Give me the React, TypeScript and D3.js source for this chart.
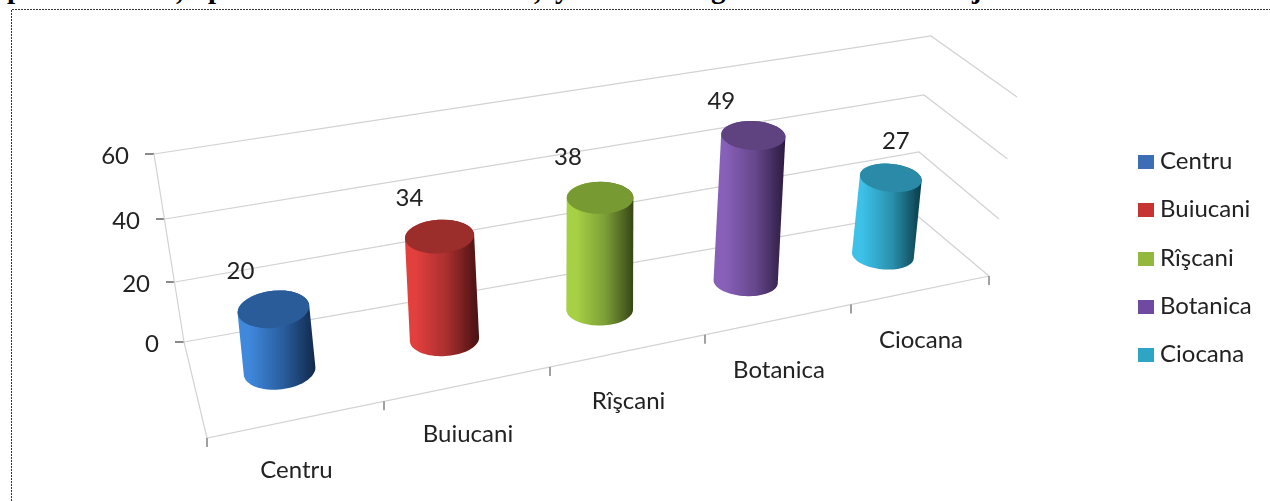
import React from "react";
import * as d3 from "d3";

const categories = ["Centru", "Buiucani", "Rîşcani", "Botanica", "Ciocana"];
const values = [20, 34, 38, 49, 27];
const yTicks = [0, 20, 40, 60];
const axisSlots = [0, 1, 2, 3, 4, 5];

// projected frame of the 3D chart
const leftX = d3.scaleLinear().domain(yTicks).range([184, 175, 165, 154]);
const leftY = d3.scaleLinear().domain(yTicks).range([342, 282, 219, 154]);
const backX = d3.scaleLinear().domain(yTicks).range([914, 919, 924, 931]);
const backY = d3.scaleLinear().domain(yTicks).range([213, 152, 95, 36]);
const rightX = d3.scaleLinear().domain(yTicks).range([989, 999, 1007.5, 1017]);
const rightY = d3.scaleLinear().domain(yTicks).range([276, 219, 159, 97]);

const frontSlotX = d3.scaleLinear().domain(axisSlots).range([207, 384, 550, 705, 851, 989]);
const backSlotX = d3.scaleLinear().domain(axisSlots).range([184, 347, 502, 648, 786, 914]);
const frontEdgeY = d3.scaleLinear().domain([207, 989]).range([438, 276]);
const backEdgeY = d3.scaleLinear().domain([184, 914]).range([342, 213]);

const DEPTH = 0.53;
const unitY = d3.scaleLinear().domain([280, 446, 600, 747, 883]).range([3.08, 3.02, 2.94, 2.98, 2.87]);
const radiusX = d3.scaleLinear().domain([280, 883]).range([36, 31]);
const radiusY = d3.scaleLinear().domain([280, 446, 600, 747, 883]).range([18.5, 16.8, 16, 14.5, 14]);
const tilt = d3.scaleLinear().domain([280, 883]).range([-7, 6]);

const palette = [
  { top: "#2b5c99", a: "#3f88dc", b: "#2a5e9f", c: "#11284a", legend: "#3a6eb5" },
  { top: "#9b2d2a", a: "#e23f3d", b: "#a62e2e", c: "#451110", legend: "#c73533" },
  { top: "#789a31", a: "#a6d145", b: "#7d9e36", c: "#364616", legend: "#93b83f" },
  { top: "#5f4380", a: "#8861ba", b: "#66478c", c: "#2a1b40", legend: "#7049a0" },
  { top: "#2a8aa8", a: "#3cc1e9", b: "#2a8fab", c: "#093a48", legend: "#2fa5c4" },
];
const valueLabelShift = [[-33, -38], [-30, -39], [-32, -41], [-32, -35], [5, -37]];
const legendBaseline = [169, 217, 266, 314, 362];

const FONT = "Lato, 'Open Sans', sans-serif";
const FS = 24;
const GRID = "#d2d2d2";
const topGlyphs: [string, number][] = [["p", 7], [",", 176], ["p", 208], [",", 534], ["y", 555], ["g", 711], ["j", 972]];

function floorPoint(i: number) {
  const fx = frontSlotX(i + 0.5);
  const bx = backSlotX(i + 0.5);
  return {
    x: fx + (bx - fx) * DEPTH,
    y: frontEdgeY(fx) + (backEdgeY(bx) - frontEdgeY(fx)) * DEPTH,
  };
}

function rim(cx: number, cy: number, rx: number, ry: number, deg: number, from: number, to: number) {
  const r = (deg * Math.PI) / 180;
  const n = 40;
  return d3.range(n + 1).map((k) => {
    const a = from + ((to - from) * k) / n;
    const ex = rx * Math.cos(a);
    const ey = ry * Math.sin(a);
    return [cx + ex * Math.cos(r) - ey * Math.sin(r), cy + ex * Math.sin(r) + ey * Math.cos(r)] as [number, number];
  });
}

function Cylinder({ i, v }: { i: number; v: number }) {
  const base = floorPoint(i);
  const tx = base.x + v * (base.x - 590) * 0.001;
  const ty = base.y - v * unitY(base.x);
  const rx = radiusX(base.x);
  const ry = radiusY(base.x);
  const rot = tilt(base.x);
  // bottom rim from its left end round the front to its right end, then the far side of the top rim
  const outline = [
    ...rim(base.x, base.y, rx, ry, rot, Math.PI, 0),
    ...rim(tx, ty, rx, ry, rot, 0, -Math.PI),
  ];
  const body = d3.line()(outline) + "Z";
  return (
    <g>
      <path d={body} fill={`url(#cyl${i})`} />
      <ellipse cx={tx} cy={ty} rx={rx} ry={ry} fill={palette[i].top} transform={`rotate(${rot} ${tx} ${ty})`} />
      <text
        x={tx + valueLabelShift[i][0]}
        y={ty + valueLabelShift[i][1] + 8}
        textAnchor="middle"
        fontFamily={FONT}
        fontSize={FS}
        fill="#222"
      >
        {v}
      </text>
    </g>
  );
}

export default function App() {
  const gridLine = d3.line();
  return (
    <svg
      width={1270}
      height={501}
      viewBox="0 0 1270 501"
      style={{ position: "absolute", left: 0, top: 0, background: "#fff" }}
    >
      <defs>
        <filter id="soft" x="-2%" y="-2%" width="104%" height="104%">
          <feGaussianBlur stdDeviation="0.45" />
        </filter>
        {palette.map((p, i) => (
          <linearGradient key={i} id={`cyl${i}`} x1="0" y1="0" x2="1" y2="0">
            <stop offset="0" stopColor={p.a} />
            <stop offset="0.15" stopColor={p.a} />
            <stop offset="0.58" stopColor={p.b} />
            <stop offset="1" stopColor={p.c} />
          </linearGradient>
        ))}
      </defs>

      <g fontFamily="'Liberation Serif', serif" fontSize={29} fontWeight="bold" fill="#000">
        {topGlyphs.map(([g, x], i) => (
          <text key={i} x={x} y={g === "," ? -1 : -2}>{g}</text>
        ))}
      </g>
      <path d="M11.5 501V9.5H1270" fill="none" stroke="#333" strokeWidth={1} strokeDasharray="2 1" />

      <g filter="url(#soft)">
        {yTicks.map((t) => (
          <g key={t}>
            <path
              d={gridLine([[leftX(t), leftY(t)], [backX(t), backY(t)], [rightX(t), rightY(t)]]) || ""}
              fill="none"
              stroke={GRID}
              strokeWidth={1.2}
            />
            <line x1={leftX(t) - 9} x2={leftX(t)} y1={leftY(t)} y2={leftY(t)} stroke="#8a8a8a" strokeWidth={2} />
            <text
              x={leftX(t) - 25}
              y={leftY(t) + 10}
              textAnchor="end"
              fontFamily={FONT}
              fontSize={FS}
              fill="#222"
            >
              {t}
            </text>
          </g>
        ))}
        <path
          d={gridLine([[leftX(60), leftY(60)], [leftX(0), leftY(0)], [frontSlotX(0), frontEdgeY(frontSlotX(0))], [frontSlotX(5), frontEdgeY(frontSlotX(5))]]) || ""}
          fill="none"
          stroke={GRID}
          strokeWidth={1.2}
        />
        {axisSlots.map((s) => {
          const x = frontSlotX(s);
          return <line key={s} x1={x} x2={x} y1={frontEdgeY(x)} y2={frontEdgeY(x) + 9} stroke="#8a8a8a" strokeWidth={1.6} />;
        })}
        {categories.map((c, i) => {
          const x = frontSlotX(i + 0.5);
          return (
            <text key={c} x={x + 1} y={frontEdgeY(x) + 58} textAnchor="middle" fontFamily={FONT} fontSize={FS} fill="#222">
              {c}
            </text>
          );
        })}
        {values.map((v, i) => (
          <Cylinder key={i} i={i} v={v} />
        ))}
        {categories.map((c, i) => (
          <g key={c}>
            <rect x={1138} y={legendBaseline[i] - 14} width={16} height={14} fill={palette[i].legend} />
            <text x={1160} y={legendBaseline[i]} fontFamily={FONT} fontSize={FS} fill="#222">
              {c}
            </text>
          </g>
        ))}
      </g>
    </svg>
  );
}
